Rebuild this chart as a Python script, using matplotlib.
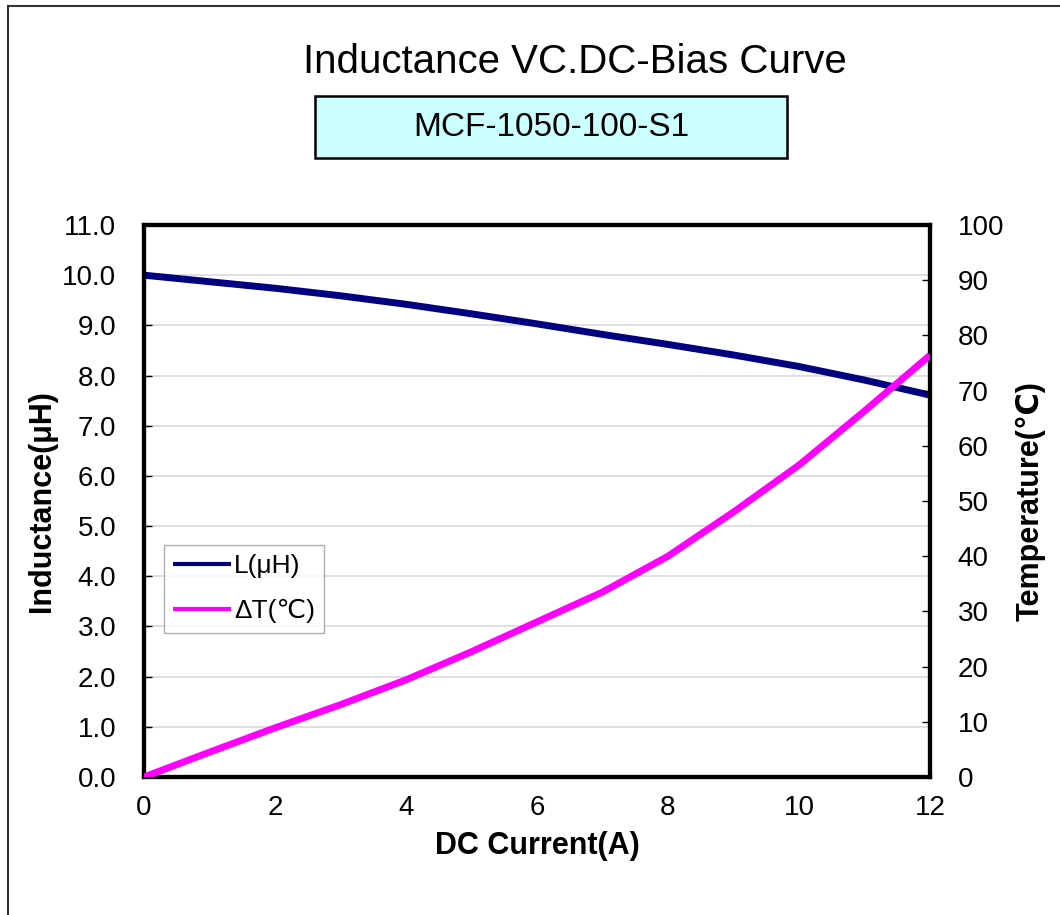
"""Inductance vs DC-bias curve for MCF-1050-100-S1, with temperature rise on a twin axis."""

import matplotlib
matplotlib.use("Agg")
import matplotlib.pyplot as plt
from matplotlib.patches import Rectangle
from matplotlib.ticker import FormatStrFormatter

plt.rcParams["font.family"] = ["Liberation Sans", "DejaVu Sans"]

# values
current_a = [0, 1, 2, 3, 4, 5, 6, 7, 8, 9, 10, 11, 12]
inductance_uh = [10.0, 9.87, 9.74, 9.59, 9.42, 9.23, 9.03, 8.82, 8.62, 8.41, 8.18, 7.91, 7.61]
delta_t_c = [0, 4.5, 8.9, 13.1, 17.6, 22.7, 28.1, 33.5, 40.0, 48.0, 56.5, 66.3, 76.4]

x_labels = [0, 2, 4, 6, 8, 10, 12]
l_ticks = [i * 1.0 for i in range(12)]
t_ticks = list(range(0, 101, 10))

NAVY = "#000080"
MAGENTA = "#FF00FF"
GRID = "#d9d9d9"
TICK_FS = 20

fig = plt.figure(figsize=(10.6, 9.15), dpi=100)
ax = fig.add_axes([144 / 1060, 1 - 777 / 915, (930 - 144) / 1060, (777 - 225) / 915])
ax2 = ax.twinx()

# outer frame of the original sheet (left + top edges only)
fig.add_artist(plt.Line2D([8 / 1060, 8 / 1060], [0, 1 - 6 / 915], color="#333333", lw=1.5,
                          transform=fig.transFigure))
fig.add_artist(plt.Line2D([8 / 1060, 1], [1 - 6 / 915, 1 - 6 / 915], color="#333333", lw=1.5,
                          transform=fig.transFigure))

(l_line,) = ax.plot(current_a, inductance_uh, color=NAVY, lw=5, solid_capstyle="butt",
                    label="L(μH)", zorder=4)
(t_line,) = ax2.plot(current_a, delta_t_c, color=MAGENTA, lw=5, solid_capstyle="butt",
                     label="ΔT(℃)", zorder=4)

ax.set_xlim(0, 12)
ax.set_ylim(0, 11)
ax2.set_ylim(0, 100)

ax.set_xticks(x_labels)
ax.set_xticks([4, 8], minor=True)
ax.tick_params(axis="x", which="major", length=0, pad=13, labelsize=TICK_FS)
ax.tick_params(axis="x", which="minor", length=6, direction="in", width=1)
ax.grid(True, axis="x", which="minor", color=GRID, lw=1.2)

ax.set_yticks(l_ticks)
ax.yaxis.set_major_formatter(FormatStrFormatter("%.1f"))
ax.tick_params(axis="y", length=6, direction="in", width=1, pad=20, labelsize=TICK_FS)
ax.grid(True, axis="y", color=GRID, lw=1.2)
ax.set_axisbelow(True)

ax2.set_yticks(t_ticks)
ax2.tick_params(axis="y", length=6, direction="in", width=1, pad=20, labelsize=TICK_FS)

for a in (ax, ax2):
    for s in a.spines.values():
        s.set_linewidth(3)
        s.set_color("black")

ax.set_xlabel("DC Current(A)", fontsize=22, fontweight="bold", labelpad=7)
ax.set_ylabel("Inductance(μH)", fontsize=22, fontweight="bold", labelpad=4)
ax2.set_ylabel("Temperature(℃)", fontsize=22, fontweight="bold", labelpad=8)

leg = ax.legend(handles=[l_line, t_line], loc="upper left",
                bbox_to_anchor=((164 - 144) / 786, (777 - 545) / 552),
                fontsize=19, frameon=True, fancybox=False, edgecolor="#999999",
                handlelength=2.2, handletextpad=0.1, borderpad=0.35, labelspacing=0.8,
                borderaxespad=0)
leg.get_frame().set_linewidth(1)
for h in leg.get_lines():
    h.set_linewidth(3)

fig.text(575 / 1060, 1 - 62 / 915, "Inductance VC.DC-Bias Curve", ha="center", va="center",
         fontsize=29)
fig.add_artist(Rectangle((315 / 1060, 1 - 158 / 915), (787 - 315) / 1060, (158 - 96) / 915,
                         transform=fig.transFigure, facecolor="#CCFFFF", edgecolor="black",
                         lw=1.8))
fig.text(551 / 1060, 1 - 128 / 915, "MCF-1050-100-S1", ha="center", va="center", fontsize=24)

fig.savefig("out.png", dpi=100)
